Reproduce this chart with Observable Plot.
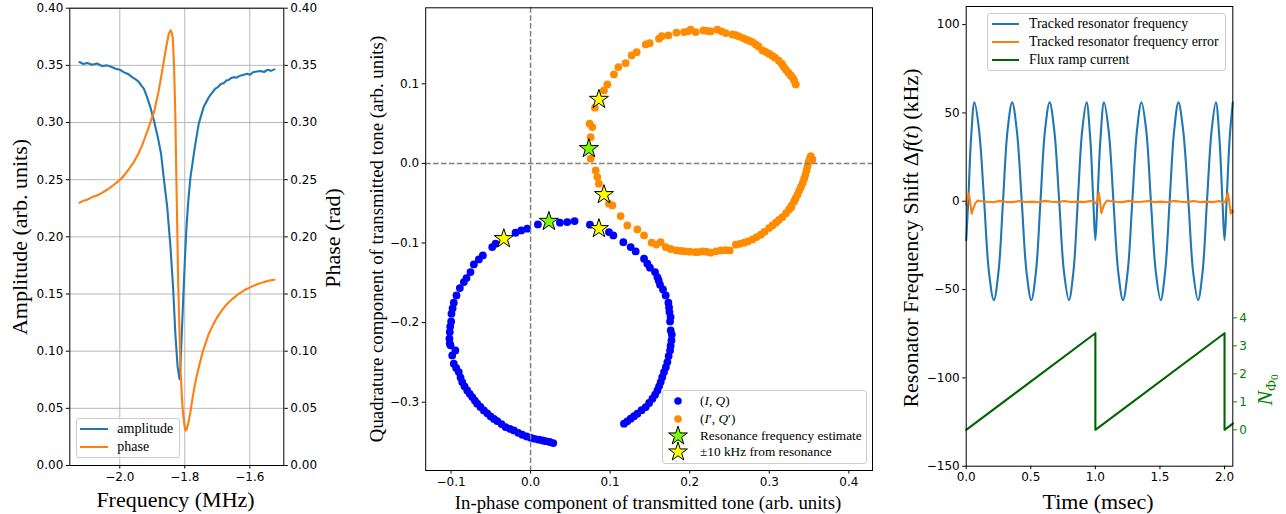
<!DOCTYPE html>
<html><head><meta charset="utf-8">
<script src="https://cdn.jsdelivr.net/npm/d3@7"></script>
<script src="https://cdn.jsdelivr.net/npm/@observablehq/plot@0.6"></script>
<style>
body{margin:0;background:#fff;}
#fig{position:relative;width:1286px;height:514px;overflow:hidden;background:#fff;}
.lbl{position:absolute;font-family:"Liberation Serif",serif;white-space:nowrap;color:#000;line-height:1;}
.box{position:absolute;border:1px solid #cccccc;border-radius:3px;background:rgba(255,255,255,0.8);box-sizing:border-box;}
.sw{position:absolute;}
</style></head><body><div id="fig"></div>
<script>
// ---------- Left panel data: resonance sweep ----------
const ampFreq = [-2.124,-2.112,-2.100,-2.085,-2.070,-2.055,-2.039,-2.025,-2.013,-2.000,-1.988,-1.975,-1.962,-1.950,-1.941,-1.933,-1.926,-1.916,-1.906,-1.895,-1.883,-1.873,-1.865,-1.854,-1.844,-1.836,-1.829,-1.822,-1.8163,-1.8132,-1.810,-1.805,-1.800,-1.7948,-1.789,-1.7825,-1.769,-1.757,-1.742,-1.726,-1.706,-1.698,-1.690,-1.680,-1.672,-1.665,-1.657,-1.649,-1.640,-1.630,-1.619,-1.608,-1.599,-1.590,-1.578,-1.567,-1.556,-1.545,-1.535,-1.524];
const ampVal  = [0.3529,0.3512,0.3521,0.3506,0.3516,0.3495,0.3500,0.3485,0.3470,0.3462,0.3441,0.3425,0.3397,0.3375,0.3354,0.3320,0.3296,0.3222,0.3135,0.3018,0.2872,0.2727,0.2522,0.2260,0.1910,0.1560,0.1152,0.0860,0.0758,0.0890,0.1100,0.1444,0.1780,0.2085,0.2320,0.2522,0.2785,0.2990,0.3135,0.3222,0.3296,0.3310,0.3335,0.3346,0.3368,0.3372,0.3390,0.3397,0.3392,0.3410,0.3418,0.3427,0.3418,0.3440,0.3447,0.3450,0.3442,0.3462,0.3452,0.3465];
const phaseFreq = [-2.124,-2.112,-2.100,-2.085,-2.070,-2.055,-2.039,-2.025,-2.008,-1.995,-1.9825,-1.970,-1.9569,-1.944,-1.9311,-1.921,-1.9108,-1.9025,-1.8932,-1.887,-1.880,-1.8677,-1.8572,-1.8492,-1.844,-1.8405,-1.8369,-1.833,-1.829,-1.8265,-1.823,-1.8203,-1.816,-1.8132,-1.809,-1.806,-1.801,-1.7978,-1.7935,-1.7895,-1.783,-1.7772,-1.770,-1.7618,-1.754,-1.7465,-1.736,-1.7262,-1.713,-1.7003,-1.685,-1.6695,-1.652,-1.6338,-1.616,-1.5978,-1.577,-1.5569,-1.540,-1.524];
const phaseVal  = [0.2298,0.2315,0.2325,0.2348,0.2362,0.2385,0.2412,0.2440,0.2479,0.2510,0.2552,0.2600,0.2654,0.2720,0.2800,0.2880,0.2960,0.3030,0.3106,0.3190,0.3281,0.3485,0.3660,0.3777,0.3806,0.3790,0.3740,0.3500,0.3050,0.2610,0.2050,0.1590,0.1150,0.0860,0.0600,0.0481,0.0350,0.0306,0.0320,0.0365,0.0460,0.0569,0.0690,0.0802,0.0890,0.0977,0.1070,0.1152,0.1230,0.1297,0.1360,0.1415,0.1460,0.1502,0.1535,0.1560,0.1585,0.1604,0.1618,0.1625];
const freqTicks = [-2.0,-1.8,-1.6];
const ampTicks = [0,0.05,0.10,0.15,0.20,0.25,0.30,0.35,0.40];

// ---------- Middle panel data: IQ circles ----------
const iqPoints = [
[-0.1015,-0.2265],[-0.1015,-0.2119],[-0.0998,-0.1985],[-0.0994,-0.1888],[-0.0965,-0.1750],[-0.0931,-0.1658],[-0.0889,-0.1566],[-0.0839,-0.1491],[-0.0805,-0.1441],[-0.0755,-0.1365],[-0.0713,-0.1269],[-0.0650,-0.1206],[-0.0600,-0.1156],[-0.0482,-0.1051],[-0.0440,-0.1009],[-0.0189,-0.0871],[-0.0117,-0.0842],[-0.0042,-0.0820],[0.0092,-0.0766],[0.0369,-0.0745],[0.0461,-0.0737],[0.0553,-0.0725],[0.0746,-0.0770],[0.0985,-0.0863],[0.1040,-0.0905],[0.1166,-0.0989],[0.1258,-0.1051],[0.1321,-0.1106],[0.1426,-0.1198],[0.1468,-0.1260],[0.1500,-0.1310],[0.1564,-0.1365],[0.1594,-0.1428],[0.1610,-0.1470],[0.1627,-0.1524],[0.1664,-0.1583],[0.1698,-0.1658],[0.1732,-0.1750],[0.1740,-0.1810],[0.1745,-0.1868],[0.1760,-0.1930],[0.1753,-0.1985],[0.1761,-0.2098],[0.1775,-0.2150],[0.1770,-0.2224],
[-0.1020,-0.2200],[-0.1010,-0.2050],[-0.0980,-0.1820],[-0.1006,-0.2286],[-0.0945,-0.2350],[-0.0985,-0.2412],[-0.0965,-0.2516],[-0.0935,-0.2570],[-0.0902,-0.2621],[-0.0880,-0.2690],[-0.0859,-0.2747],[-0.0830,-0.2800],[-0.0796,-0.2852],[-0.0765,-0.2895],[-0.0733,-0.2936],[-0.0700,-0.2980],[-0.0670,-0.3019],[-0.0630,-0.3060],[-0.0587,-0.3103],[-0.0545,-0.3140],[-0.0503,-0.3178],[-0.0460,-0.3210],[-0.0419,-0.3237],[-0.0365,-0.3275],[-0.0314,-0.3313],[-0.0260,-0.3335],[-0.0210,-0.3354],[-0.0155,-0.3385],[-0.0105,-0.3409],[-0.0050,-0.3430],[0.0000,-0.3446],[0.0050,-0.3460],[0.0105,-0.3471],[0.0150,-0.3480],[0.0189,-0.3489],[0.0240,-0.3500],[0.0285,-0.3514],
[0.1174,-0.3270],[0.1215,-0.3240],[0.1258,-0.3207],[0.1300,-0.3175],[0.1342,-0.3144],[0.1395,-0.3100],[0.1447,-0.3061],[0.1490,-0.3010],[0.1531,-0.2956],[0.1565,-0.2905],[0.1594,-0.2852],[0.1615,-0.2800],[0.1635,-0.2747],[0.1655,-0.2685],[0.1677,-0.2621],[0.1700,-0.2560],[0.1719,-0.2496],[0.1735,-0.2420],[0.1753,-0.2349],[0.1760,-0.2290]
];
const iqPrimePoints = [
[0.0755,0.0330],[0.0742,0.0499],[0.0776,0.0456],[0.0809,0.0700],[0.0922,0.0917],[0.0965,0.0992],[0.1048,0.1118],[0.1103,0.1210],[0.1195,0.1260],[0.1270,0.1357],[0.1333,0.1398],[0.1447,0.1495],[0.1497,0.1511],[0.1614,0.1567],[0.1648,0.1599],[0.1732,0.1608],[0.1833,0.1642],[0.1928,0.1650],[0.1980,0.1660],[0.2013,0.1680],[0.2075,0.1650],[0.2172,0.1671],[0.2220,0.1665],[0.2264,0.1658],[0.2348,0.1680],[0.2400,0.1660],[0.2453,0.1637],[0.2537,0.1621],[0.2580,0.1610],[0.2620,0.1595],[0.2670,0.1575],[0.2713,0.1554],[0.2750,0.1540],[0.2789,0.1524],[0.2830,0.1495],[0.2864,0.1470],[0.2914,0.1420],[0.2955,0.1400],[0.2998,0.1378],[0.3040,0.1350],[0.3073,0.1328],[0.3120,0.1290],[0.3157,0.1252],[0.3180,0.1215],[0.3208,0.1177],[0.3240,0.1140],[0.3270,0.1106],[0.3295,0.1075],[0.3312,0.1043],[0.3333,0.0992],
[0.0755,0.0059],[0.0818,-0.0088],[0.0839,-0.0172],[0.0859,-0.0255],[0.0985,-0.0506],[0.1028,-0.0528],[0.1132,-0.0662],[0.1216,-0.0779],[0.1342,-0.0829],[0.1426,-0.0905],[0.1522,-0.0996],[0.1580,-0.1020],[0.1635,-0.0988],[0.1698,-0.1051],[0.1760,-0.1075],[0.1833,-0.1093],[0.1890,-0.1100],[0.1941,-0.1106],[0.2000,-0.1110],[0.2067,-0.1114],[0.2110,-0.1115],[0.2160,-0.1106],[0.2210,-0.1110],[0.2264,-0.1122],[0.2330,-0.1105],[0.2390,-0.1093],[0.2450,-0.1090],[0.2503,-0.1093],[0.2579,-0.1021],[0.2630,-0.1010],[0.2683,-0.0996],[0.2730,-0.0980],[0.2789,-0.0955],[0.2840,-0.0925],[0.2893,-0.0896],[0.2940,-0.0860],[0.2998,-0.0812],[0.3040,-0.0780],[0.3082,-0.0745],[0.3120,-0.0710],[0.3166,-0.0674],[0.3210,-0.0625],[0.3249,-0.0578],[0.3275,-0.0550],[0.3280,-0.0530],[0.3312,-0.0477],[0.3330,-0.0440],[0.3354,-0.0393],[0.3375,-0.0345],[0.3396,-0.0298],[0.3420,-0.0245],[0.3438,-0.0192],[0.3455,-0.0140],[0.3468,-0.0088],[0.3480,-0.0040],[0.3493,0.0016],[0.3510,0.0060],[0.3522,0.0092],[0.3543,0.0050]
];
const resonanceStars = [[0.0230,-0.0729],[0.0733,0.0185]];
const sidebandStars = [[-0.0336,-0.0946],[0.0859,-0.0820],[0.0859,0.0804],[0.0922,-0.0393]];
const iTicks = [-0.1,0.0,0.1,0.2,0.3,0.4];
const qTicks = [-0.3,-0.2,-0.1,0.0,0.1];

// ---------- Right panel data: tracking ----------
const trackT = [0,0.016,0.038,0.064,0.100,0.139,0.176,0.214,0.250,0.285,0.320,0.356,0.392,0.430,0.467,0.504,0.540,0.575,0.610,0.646,0.682,0.720,0.757,0.795,0.830,0.864,0.898,0.932,0.960,0.984,1.000,1.016,1.040,1.067,1.103,1.140,1.177,1.214,1.250,1.286,1.322,1.357,1.394,1.430,1.468,1.506,1.540,1.575,1.610,1.643,1.680,1.720,1.757,1.795,1.830,1.864,1.900,1.933,1.960,1.984,2.000,2.016,2.040,2.064];
const trackV = [-22,0,36,56,40,0,-40,-56,-40,0,40,56,40,0,-40,-56,-40,0,40,56,40,0,-40,-56,-40,0,40,56,36,0,-22,0,36,56,40,0,-40,-56,-40,0,40,56,40,0,-40,-56,-40,0,40,56,40,0,-40,-56,-40,0,40,56,36,0,-22,0,36,56];
const errT = [0,0.008,0.020,0.030,0.042,0.055,0.070,0.090,0.110,0.160,0.210,0.260,0.310,0.360,0.410,0.460,0.510,0.560,0.610,0.660,0.710,0.760,0.810,0.860,0.910,0.960,0.990,1.005,1.016,1.027,1.036,1.046,1.058,1.072,1.092,1.112,1.160,1.210,1.260,1.310,1.360,1.410,1.460,1.510,1.560,1.610,1.660,1.710,1.760,1.810,1.860,1.910,1.960,1.995,2.010,2.026,2.036,2.048,2.056,2.064];
const errV = [-2,0.5,4.5,0,-7,-4,-1.2,0.4,0.1,-0.3,-0.6,0.2,-0.4,-0.5,0.1,-0.4,-0.2,-0.6,0.2,-0.3,-0.5,0.1,-0.4,-0.2,-0.5,0.1,-0.3,-1.2,0.5,4.8,0,-6.8,-4,-1.2,0.4,0.1,-0.3,-0.5,0.2,-0.4,-0.3,0.1,-0.5,-0.2,-0.6,0.2,-0.3,-0.5,0.1,-0.4,-0.2,-0.5,0.1,-0.8,0.5,4.5,0,-7,-5,-6];
const rampT = [0,1.0,1.0,2.0,2.0,2.064];
const rampN = [0,3.45,0,3.45,0,0.22];
const timeTicks = [0,0.5,1.0,1.5,2.0];
const shiftTicks = [-150,-100,-50,0,50,100];
const phiTicks = [0,1,2,3,4];

// secondary axis mapping (N_Phi0 -> kHz position on shared axis)
const rampZero = -129.4, kHzPerPhi = 15.85;
const phiToK = n => rampZero + n * kHzPerPhi;

// ---------- build tables ----------
const ampData = ampFreq.map((f,i)=>({f, v: ampVal[i]}));
const phaseData = phaseFreq.map((f,i)=>({f, v: phaseVal[i]}));
const trackData = trackT.map((t,i)=>({t, v: trackV[i]}));
const errData = errT.map((t,i)=>({t, v: errV[i]}));
const rampData = rampT.map((t,i)=>({t, n: rampN[i]}));

const C = {blue:"#1f77b4", orange:"#ff7f0e", green:"#006400", axGreen:"#008000"};
const baseStyle = {fontFamily:"DejaVu Sans", fontSize:"12px", color:"black", background:"transparent", overflow:"visible"};
const tk = {tickSize:3.5, tickPadding:3, label:null};
const LW = 2.1;
const fig = document.getElementById("fig");
function place(el, left){ el.style.position="absolute"; el.style.left=left+"px"; el.style.top="0px"; fig.appendChild(el); }

// Left panel
const left = Plot.plot({
  width:360, height:514, marginLeft:69.3, marginRight:76.7, marginTop:7.7, marginBottom:49,
  style: baseStyle,
  x:{domain:[-2.1538,-1.4953]}, y:{domain:[0,0.4]},
  marks:[
    Plot.gridX({ticks:freqTicks, stroke:"#b0b0b0", strokeOpacity:1, strokeWidth:0.9}),
    Plot.gridY({ticks:ampTicks, stroke:"#b0b0b0", strokeOpacity:1, strokeWidth:0.9}),
    Plot.line(ampData, {x:"f", y:"v", stroke:C.blue, strokeWidth:LW}),
    Plot.line(phaseData, {x:"f", y:"v", stroke:C.orange, strokeWidth:LW}),
    Plot.frame({stroke:"black", strokeWidth:1}),
    Plot.axisX({ticks:freqTicks, tickFormat:".1f", ...tk}),
    Plot.axisY({ticks:ampTicks, tickFormat:".2f", anchor:"left", ...tk}),
    Plot.axisY({ticks:ampTicks, tickFormat:".2f", anchor:"right", ...tk})
  ]
});
place(left, 0);

// Middle panel
const mid = Plot.plot({
  width:540, height:514, marginLeft:75.2, marginRight:18, marginTop:7.3, marginBottom:44,
  style: baseStyle,
  x:{domain:[-0.1318,0.4297]}, y:{domain:[-0.3858,0.1955]},
  marks:[
    Plot.dot(iqPoints, {x:d=>d[0], y:d=>d[1], r:3.9, fill:"#0000ff"}),
    Plot.dot(iqPrimePoints, {x:d=>d[0], y:d=>d[1], r:3.9, fill:"#ff8c00"}),
    Plot.ruleX([0], {stroke:"#808080", strokeWidth:1.5, strokeDasharray:"5.5,2.4"}),
    Plot.ruleY([0], {stroke:"#808080", strokeWidth:1.5, strokeDasharray:"5.5,2.4"}),
    Plot.dot(resonanceStars, {x:d=>d[0], y:d=>d[1], symbol:"star", r:6, fill:"#7cfc00", stroke:"black", strokeWidth:1}),
    Plot.dot(sidebandStars, {x:d=>d[0], y:d=>d[1], symbol:"star", r:6, fill:"#ffff00", stroke:"black", strokeWidth:1}),
    Plot.frame({stroke:"black", strokeWidth:1}),
    Plot.axisX({ticks:iTicks, tickFormat:".1f", ...tk}),
    Plot.axisY({ticks:qTicks, tickFormat:".1f", anchor:"left", ...tk})
  ]
});
place(mid, 350);

// Right panel
const right = Plot.plot({
  width:396, height:514, marginLeft:75.7, marginRight:53.7, marginTop:6, marginBottom:48.3,
  style: baseStyle,
  x:{domain:[0,2.064]}, y:{domain:[-150,110.25]},
  marks:[
    Plot.line(trackData, {x:"t", y:"v", stroke:C.blue, strokeWidth:LW, curve:"catmull-rom"}),
    Plot.line(errData, {x:"t", y:"v", stroke:C.orange, strokeWidth:LW}),
    Plot.line(rampData, {x:"t", y:d=>phiToK(d.n), stroke:C.green, strokeWidth:LW}),
    Plot.frame({stroke:"black", strokeWidth:1}),
    Plot.axisX({ticks:timeTicks, tickFormat:".1f", ...tk}),
    Plot.axisY({ticks:shiftTicks, tickFormat:"d", anchor:"left", ...tk}),
    Plot.axisY({ticks:phiTicks.map(phiToK), tickFormat:d=>String(Math.round((d-rampZero)/kHzPerPhi)), anchor:"right", color:C.axGreen, ...tk})
  ]
});
place(right, 890);

// ---------- HTML text: axis titles ----------
function label(html, x, y, size, rot, color){
  const d = document.createElement("div");
  d.className = "lbl";
  d.innerHTML = html;
  d.style.left = x+"px"; d.style.top = y+"px"; d.style.fontSize = size+"px";
  if (color) d.style.color = color;
  d.style.transform = "translate(-50%,-50%)" + (rot ? " rotate(-90deg)" : "");
  fig.appendChild(d);
  return d;
}
label("Amplitude (arb. units)", 20, 236.7, 22, true);
label("Phase (rad)", 332.7, 237.5, 22, true);
label("Frequency (MHz)", 175.5, 500, 22, false);
label("Quadrature component of transmitted tone (arb. units)", 377, 239, 18.8, true);
label("In-phase component of transmitted tone (arb. units)", 648, 503, 18.8, false);
label("Resonator Frequency Shift Δ<i>f</i>(<i>t</i>) (kHz)", 910.7, 237.5, 22, true);
label("Time (msec)", 1098, 502, 22, false);
label("<i>N</i><sub style='font-size:0.68em;vertical-align:-0.25em'>Φ<sub style='font-size:0.75em;vertical-align:-0.2em'>0</sub></sub>", 1267.3, 390, 22, true, C.axGreen);

// ---------- Legends ----------
function box(x0,y0,x1,y1){ const b=document.createElement("div"); b.className="box"; Object.assign(b.style,{left:x0+"px",top:y0+"px",width:(x1-x0)+"px",height:(y1-y0)+"px"}); fig.appendChild(b); }
function lineSwatch(x0,x1,y,color){ const s=document.createElement("div"); s.className="sw"; Object.assign(s.style,{left:x0+"px",top:(y-1)+"px",width:(x1-x0)+"px",height:"2px",background:color}); fig.appendChild(s); }
function symSwatch(cx,cy,type,fill,size){
  const ns="http://www.w3.org/2000/svg"; const svg=document.createElementNS(ns,"svg");
  svg.setAttribute("width",30); svg.setAttribute("height",30);
  svg.style.position="absolute"; svg.style.left=(cx-15)+"px"; svg.style.top=(cy-15)+"px"; svg.style.overflow="visible";
  const p=document.createElementNS(ns,"path");
  p.setAttribute("d", d3.symbol(type==="star"?d3.symbolStar:d3.symbolCircle, size)());
  p.setAttribute("transform","translate(15,15)"); p.setAttribute("fill",fill);
  if(type==="star"){p.setAttribute("stroke","black"); p.setAttribute("stroke-width","1");}
  svg.appendChild(p); fig.appendChild(svg);
}
function legendText(html,x,y,size){ const d=document.createElement("div"); d.className="lbl"; d.innerHTML=html; Object.assign(d.style,{left:x+"px",top:y+"px",fontSize:size+"px",transform:"translate(0,-50%)"}); fig.appendChild(d); }

// left legend
box(76,417.7,180,457.7);
lineSwatch(80,108.3,429,C.blue); legendText("amplitude",117.3,429,14);
lineSwatch(80,108.3,446.7,C.orange); legendText("phase",117.3,446.7,14);

// middle legend
box(661.5,390,867,464);
symSwatch(678.3,400.7,"circle","#0000ff",44); legendText("(<i>I</i>, <i>Q</i>)",700,400.7,13.3);
symSwatch(678.3,419,"circle","#ff8c00",44); legendText("(<i>I</i>′, <i>Q</i>′)",700,419,13.3);
symSwatch(678.3,435.7,"star","#7cfc00",110); legendText("Resonance frequency estimate",700,435.7,13.3);
symSwatch(678.3,452.3,"star","#ffff00",110); legendText("±10 kHz from resonance",700,452.3,13.3);

// right legend
box(987.3,13.3,1225.7,70.7);
lineSwatch(991.7,1019.3,24,C.blue); legendText("Tracked resonator frequency",1029,24,13.9);
lineSwatch(991.7,1019.3,42,C.orange); legendText("Tracked resonator frequency error",1029,42,13.9);
lineSwatch(991.7,1019.3,60,C.green); legendText("Flux ramp current",1029,60,13.9);
</script></body></html>
